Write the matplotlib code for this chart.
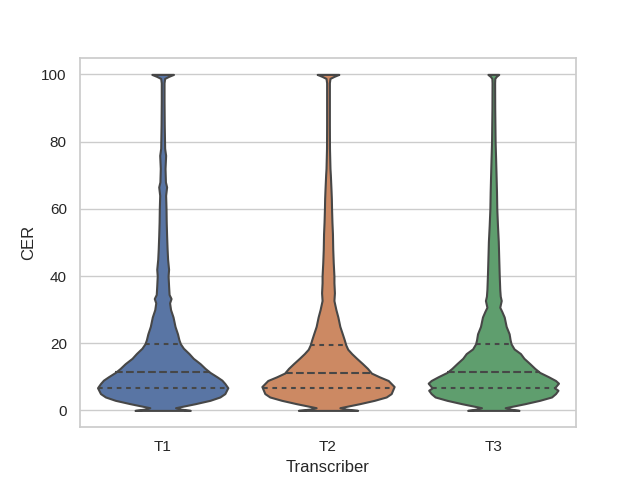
import numpy as np
import matplotlib
matplotlib.use("Agg")
import matplotlib.pyplot as plt
import seaborn as sns

sns.set_theme(style="whitegrid")
plt.rcParams['font.family'] = ['Liberation Sans', 'DejaVu Sans']

# transcriber categories
transcribers = ["T1", "T2", "T3"]

# density profiles (CER value, relative density)
t1_y = [0, 0.4, 0.8, 2.0, 3.0, 4.0, 5.0, 6.75, 8.0, 9.0, 10.0, 11.3, 12.5, 13.9, 15.5, 16.9,
        18.5, 19.8, 21.0, 22.8, 25.0, 27.8, 30.0, 32.0, 33.3, 34.5, 37.0, 40.0, 42.0, 45.0,
        48.0, 52.0, 56.0, 60.0, 64.0, 66.5, 68.0, 72.0, 75.9, 78.0, 85.0, 92.0, 97.5,
        98.8, 99.4, 100]
t1_d = [28, 18, 13, 33, 48, 58, 63, 66, 63, 60, 55, 48, 43, 38, 31, 26.7,
        21, 18, 16.5, 15, 12.5, 10.5, 8, 7, 8.5, 6.5, 6, 5.5, 6, 5,
        4.5, 4, 3.6, 3.4, 3, 4, 2.8, 2.4, 3, 2, 1.6, 1.4, 1.4,
        2, 6, 11]

t2_y = [0, 0.4, 0.8, 2.0, 3.0, 4.0, 5.0, 7.1, 8.9, 10.0, 11.1, 12.5, 13.9, 15.5, 16.9,
        18.2, 19.5, 21.0, 22.8, 25.0, 27.8, 30.0, 32.7, 35.0, 38.0, 40.0, 44.0, 48.0,
        52.6, 56.0, 60.0, 63.0, 66.0, 70.0, 72.0, 78.0, 85.0, 92.0, 97.5, 98.8, 99.4, 100]
t2_d = [30, 18, 12, 32, 47, 59, 64, 67, 61, 52, 44, 40, 35, 29, 24,
        20, 18, 16.5, 14.5, 12, 10, 8, 6, 6.5, 6, 6, 5.3, 4.8,
        4.5, 4, 3.6, 3.4, 3, 2.4, 2, 1.5, 1.4, 1.4, 1.4, 2, 6, 11]

t3_y = [0, 0.4, 0.8, 2.0, 3.0, 4.0, 5.0, 6.0, 6.7, 8.1, 8.9, 10.0, 11.3, 12.5, 13.9, 15.5,
        16.9, 18.3, 19.8, 21.0, 22.8, 25.0, 27.8, 29.5, 30.7, 32.7, 34.0, 36.0, 40.0, 45.0,
        50.3, 55.0, 60.0, 65.0, 69.6, 75.0, 80.0, 85.0, 90.0, 97.5, 98.8, 99.4, 100]
t3_d = [26, 17, 12, 32, 47, 59, 63, 65.5, 62, 66, 63, 56, 47, 42, 37, 31,
        27.5, 21, 18, 17, 16, 13, 11, 8.5, 6.5, 8, 7, 6.5, 6, 5.5,
        5, 4.2, 3.5, 3.2, 2.8, 2.3, 1.8, 1.6, 1.4, 1.3, 1.5, 3, 5.5]

# quartiles (Q1, median, Q3)
t1_q = [6.75, 11.3, 19.8]
t2_q = [6.6, 11.1, 19.5]
t3_q = [6.6, 11.3, 19.8]

profiles = [(t1_y, t1_d, t1_q), (t2_y, t2_d, t2_q), (t3_y, t3_d, t3_q)]
colors = ["#5975a4", "#cc8963", "#5f9e6e"]
edge = "#474747"
lw = 1.5

fig, ax = plt.subplots(figsize=(6.4, 4.8), dpi=100)

max_d = max(max(p[1]) for p in profiles)
for i, (ys, ds, qs) in enumerate(profiles):
    ys = np.array(ys, dtype=float)
    hw = np.array(ds, dtype=float) / max_d * 0.4
    ax.fill_betweenx(ys, i - hw, i + hw, facecolor=colors[i], edgecolor=edge,
                     linewidth=lw, zorder=2)
    for j, q in enumerate(qs):
        w = np.interp(q, ys, hw)
        if j == 1:
            ax.plot([i - w, i + w], [q, q], color=edge, lw=lw, ls="--", zorder=3)
        else:
            ax.plot([i - w, i + w], [q, q], color=edge, lw=lw,
                    ls=(0, (2.25, 2.25)), zorder=3)

ax.set_xticks(range(len(transcribers)))
ax.set_xticklabels(transcribers)
ax.set_xlim(-0.5, 2.5)
ax.set_ylim(-5, 105)
ax.set_yticks([0, 20, 40, 60, 80, 100])
ax.xaxis.grid(False)
ax.set_xlabel("Transcriber")
ax.set_ylabel("CER")

fig.savefig("out.png", dpi=100)
